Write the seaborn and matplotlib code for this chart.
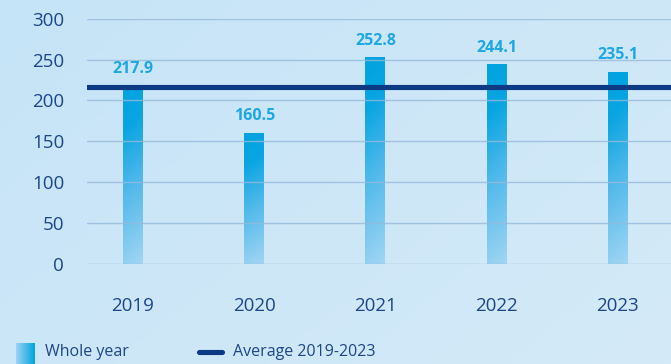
import numpy as np
import pandas as pd
import matplotlib
matplotlib.use("Agg")
import matplotlib.pyplot as plt
from matplotlib.colors import LinearSegmentedColormap
from matplotlib.lines import Line2D
import seaborn as sns

# Yearly values
years = ["2019", "2020", "2021", "2022", "2023"]
values = [217.9, 160.5, 252.8, 244.1, 235.1]
average_value = 216.0
y_ticks = [0, 50, 100, 150, 200, 250, 300]
legend_labels = ["Whole year", "Average 2019-2023"]

TEXT_DARK = "#1d4589"
LABEL_CYAN = "#1ea7e4"
NAVY = "#0c3a84"
GRID = "#97b9dc"

sns.set_theme(style="white")
plt.rcParams["font.family"] = ["Open Sans", "DejaVu Sans"]

fig = plt.figure(figsize=(6.71, 3.64), dpi=100)

# Soft diagonal background gradient over the whole figure
bg = fig.add_axes([0, 0, 1, 1], zorder=-10)
gx, gy = np.meshgrid(np.linspace(0, 1, 200), np.linspace(0, 1, 120))
t = np.clip((gx * 0.6 + gy * 0.4), 0, 1)
bg_cmap = LinearSegmentedColormap.from_list("bg", ["#c6e4f7", "#d4eaf8"])
bg.imshow(t, cmap=bg_cmap, aspect="auto", extent=[0, 1, 0, 1], origin="upper")
bg.set_axis_off()

ax = fig.add_axes([87 / 671, 1 - 264 / 364, 1 - 87 / 671, (264 - 18.7) / 364])
ax.patch.set_alpha(0)

df = pd.DataFrame({"year": years, "value": values})
sns.barplot(data=df, x="year", y="value", width=0.165, color="#00a3e0",
            ax=ax, zorder=2)

ax.set_xlim(-0.38, 4.44)
ax.set_ylim(0, 300)

# Vertical gradient fill for each bar (cyan at top, pale at the base)
bar_cmap = LinearSegmentedColormap.from_list(
    "bar", [(0.0, "#a2d5f3"), (0.45, "#4db8ea"), (0.75, "#0aa5e2"), (1.0, "#00a3e0")])
gxx, gyy = np.meshgrid(np.linspace(0, 1, 20), np.linspace(0, 1, 256))
for bar in ax.patches:
    x0, y0 = bar.get_x(), bar.get_y()
    w, h = bar.get_width(), bar.get_height()
    grad = np.clip(gyy * 0.9 + (1 - gxx) * 0.08, 0, 1)
    img = ax.imshow(grad, cmap=bar_cmap, aspect="auto", origin="lower",
                    extent=[x0, x0 + w, y0, y0 + h], zorder=2, vmin=0, vmax=1)
    img.set_clip_path(bar)
    bar.set_facecolor("none")
    bar.set_edgecolor("none")

# Gridlines drawn over the bars, faintly
for yv in y_ticks:
    ax.axhline(yv, color=GRID, lw=1.0, alpha=0.8, zorder=3)

# Average line
ax.axhline(average_value, color=NAVY, lw=3.7, solid_capstyle="round", zorder=4)

# Value labels above the bars
for i, v in enumerate(values):
    ax.annotate(f"{v:.1f}", (i, v), xytext=(0, 12), textcoords="offset points",
                ha="center", va="center", color=LABEL_CYAN, fontsize=11.5,
                fontweight="bold", zorder=5)

ax.set_yticks(y_ticks)
ax.set_yticklabels([str(v) for v in y_ticks])
ax.tick_params(axis="y", length=0, pad=16.5, labelsize=13.5, labelcolor=TEXT_DARK)
ax.tick_params(axis="x", length=0, pad=24, labelsize=13.5, labelcolor=TEXT_DARK)
ax.set_xlabel("")
ax.set_ylabel("")
for s in ax.spines.values():
    s.set_visible(False)

# Legend row along the bottom
sw_ax = fig.add_axes([16 / 671, 0, 19 / 671, 21 / 364])
sw_ax.imshow(np.linspace(0, 1, 50)[None, :], cmap=LinearSegmentedColormap.from_list(
    "sw", ["#9fd3f3", "#00a3e0"]), aspect="auto", extent=[0, 1, 0, 1])
sw_ax.set_axis_off()
fig.text(45 / 671, 1 - 352 / 364, legend_labels[0], color=TEXT_DARK,
         fontsize=11.5, va="center", ha="left")
fig.add_artist(Line2D([199 / 671, 222 / 671], [1 - 352 / 364] * 2, color=NAVY,
                      lw=3.7, solid_capstyle="round", transform=fig.transFigure))
fig.text(233 / 671, 1 - 352 / 364, legend_labels[1], color=TEXT_DARK,
         fontsize=11.5, va="center", ha="left")

fig.savefig("out.png", dpi=100)
